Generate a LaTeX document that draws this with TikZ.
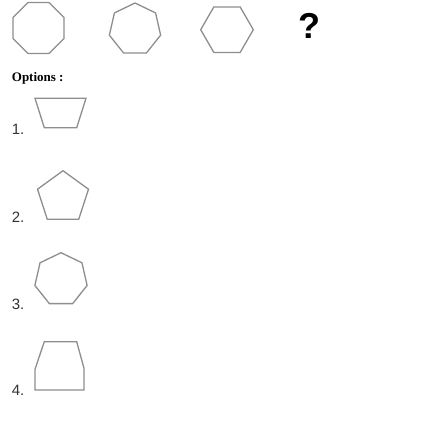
\documentclass[tikz,border=0pt]{standalone}
\usepackage{fontspec}
\setmainfont{Liberation Serif}
\newfontfamily\arialf{Liberation Sans}
\usetikzlibrary{shapes.geometric}
\definecolor{shapegray}{HTML}{8E8E8E}
\definecolor{numgray}{HTML}{333333}
\begin{document}
\begin{tikzpicture}[x=1pt,y=-1pt,
  shapeline/.style={draw=shapegray,line width=1.3pt,line join=miter},
  poly/.style={shapeline,regular polygon,inner sep=0pt,outer sep=0pt},
  numlabel/.style={anchor=base west,inner sep=0pt,text=numgray,font=\arialf\fontsize{15}{15}\selectfont}]
\useasboundingbox[fill=white] (0,0) rectangle (439,423);
% question row
\node[poly,regular polygon sides=8,minimum size=55pt] (oct) at (38.5,28) {};
\node[poly,regular polygon sides=7,minimum size=52.6pt] (hept) at (135,29.3) {};
\node[poly,regular polygon sides=6,minimum size=52.6pt] (hex) at (227,29.7) {};
\node[font=\arialf\bfseries\fontsize{36}{36}\selectfont,inner sep=0pt] (q) at (309,26) {?};
% options
\node[anchor=base west,inner sep=0pt,font=\bfseries\fontsize{13}{13}\selectfont] (opt) at (11.7,81) {Options :};
\node[numlabel] (n1) at (11.7,134) {1.};
\node[numlabel] (n2) at (11.7,222) {2.};
\node[numlabel] (n3) at (11.7,309) {3.};
\node[numlabel] (n4) at (11.7,395) {4.};
\draw[shapeline] (35,98.3) -- (86,98.3) -- (76.7,127.7) -- (44.3,127.7) -- cycle;
\node[poly,regular polygon sides=5,minimum size=53.6pt] (pent) at (63,197.5) {};
\node[poly,regular polygon sides=7,minimum size=53.6pt] (hept2) at (61,279.5) {};
\draw[shapeline] (44.3,341.7) -- (76.7,341.7) -- (84,368.3) -- (84,390) -- (35,390) -- (35,369.3) -- cycle;
\end{tikzpicture}
\end{document}
